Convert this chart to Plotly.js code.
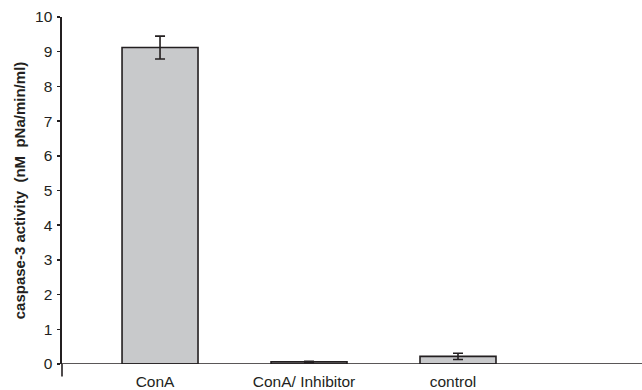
<!DOCTYPE html>
<html>
<head>
<meta charset="utf-8">
<script src="https://cdn.plot.ly/plotly-3.0.1.min.js"></script>
<style>html,body{margin:0;padding:0;background:#fff;}#chart{width:642px;height:390px;}</style>
</head>
<body>
<div id="chart"></div>
<script>
const categories = ["ConA", "ConA/ Inhibitor", "control"];
const activity = [9.12, 0.06, 0.22];
const errors = [0.33, 0.02, 0.09];
const yTicks = [0, 1, 2, 3, 4, 5, 6, 7, 8, 9, 10];

const axisColor = "#231f20";

const trace = {
  type: "bar",
  x: categories.map((c, i) => i),
  y: activity,
  width: 0.51,
  marker: {color: "#c8c9cb", line: {color: axisColor, width: 1.6}},
  error_y: {type: "data", array: errors, visible: true, color: axisColor, thickness: 1.6, width: 5},
  hoverinfo: "none"
};

const layout = {
  width: 642, height: 390,
  margin: {l: 62, r: 0, t: 17, b: 26, pad: 0},
  paper_bgcolor: "#fff", plot_bgcolor: "#fff",
  showlegend: false,
  font: {family: "Liberation Sans, Arial, sans-serif", color: axisColor},
  xaxis: {
    range: [-0.658, 3.235],
    tickvals: categories.map((c, i) => i),
    ticktext: categories,
    ticks: "", showgrid: false, zeroline: false,
    showline: false,
    ticklabelstandoff: 6,
    ticklabelshift: -5,
    tickfont: {size: 15.5, color: axisColor},
    fixedrange: true
  },
  yaxis: {
    range: [0, 10],
    tickvals: yTicks,
    ticktext: yTicks.map(String),
    ticks: "outside", ticklen: 3, tickwidth: 1.5, tickcolor: axisColor,
    showline: true, linecolor: axisColor, linewidth: 1.6,
    showgrid: false, zeroline: false,
    ticklabelstandoff: 2,
    tickfont: {size: 15.5, color: axisColor},
    title: {text: "caspase-3 activity  (nM  pNa/min/ml)", font: {size: 15, color: axisColor, weight: "bold"}, standoff: 6},
    fixedrange: true
  },
  shapes: [
    {type: "line", xref: "paper", yref: "y", x0: 0, x1: 1, y0: 0, y1: 0, line: {color: axisColor, width: 1.6}},
    {type: "line", xref: "paper", yref: "paper", x0: 0, x1: 0, y0: 0, y1: -12.5/347, line: {color: axisColor, width: 1.6}}
  ]
};

Plotly.newPlot("chart", [trace], layout, {displayModeBar: false, staticPlot: true});
</script>
</body>
</html>
